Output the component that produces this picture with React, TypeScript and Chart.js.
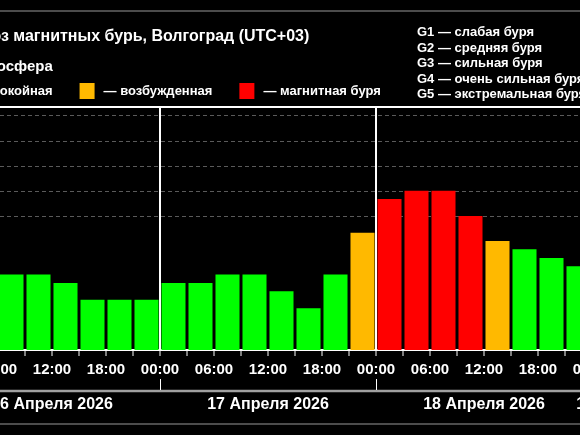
import React, { useEffect, useRef } from 'react';
import { Chart, registerables } from 'chart.js';

Chart.register(...registerables);

// ---- data ----
const chartTitle = 'Прогноз магнитных бурь, Волгоград (UTC+03)';
const legendTitle = 'Магнитосфера';
const stateLabels = ['— спокойная', '— возбужденная', '— магнитная буря'];
const stormLabels = [
  'G1 — слабая буря',
  'G2 — средняя буря',
  'G3 — сильная буря',
  'G4 — очень сильная буря',
  'G5 — экстремальная буря',
];
const stormLevels = [5, 6, 7, 8, 9];
const dayLabels = ['16 Апреля 2026', '17 Апреля 2026', '18 Апреля 2026', '19 Апреля 2026'];
// Kp index, 3-hour intervals starting at 00:00 of each day
const kpApr16 = [2.33, 2.67, 2.67, 2.67, 2.33, 1.67, 1.67, 1.67];
const kpApr17 = [2.33, 2.33, 2.67, 2.67, 2.0, 1.33, 2.67, 4.33];
const kpApr18 = [5.67, 6.0, 6.0, 5.0, 4.0, 3.67, 3.33, 3.0];
const kpApr19 = [2.67, 2.33, 2.33];
const stepHours = 3;
const axisMaxHour = 82;

// ---- style ----
const GREEN = '#00ff00';
const ORANGE = '#ffb900';
const RED = '#ff0000';
const stateColors = [GREEN, ORANGE, RED];
const FONT = '"Liberation Sans", Arial, Helvetica, sans-serif';
const CANVAS_W = 738;
const CANVAS_H = 435;
const CANVAS_LEFT = -56;
const Y_MIN = -1 / 3;
const Y_MAX = 28 / 3;

const colorFor = (v: number) => (v >= 5 ? RED : v >= 4 ? ORANGE : GREEN);

export default function App() {
  const ref = useRef<HTMLCanvasElement | null>(null);

  useEffect(() => {
    if (!ref.current) return;
    const allKp = [...kpApr16, ...kpApr17, ...kpApr18, ...kpApr19];
    const points = allKp.map((v, i) => ({ x: i * stepHours + stepHours / 2, y: v }));
    const tickHours: number[] = [];
    for (let h = 0; h <= axisMaxHour; h += stepHours) tickHours.push(h);

    const decor = {
      id: 'decor',
      beforeDraw(chart: any) {
        const c = chart.ctx;
        c.save();
        c.fillStyle = '#000';
        c.fillRect(0, 0, chart.width, chart.height);
        c.restore();
      },
      beforeDatasetsDraw(chart: any) {
        const c = chart.ctx;
        const { left, right } = chart.chartArea;
        const y = chart.scales.y;
        c.save();
        c.strokeStyle = '#5a5a5a';
        c.lineWidth = 1;
        c.setLineDash([4, 3]);
        stormLevels.forEach((lv) => {
          const py = Math.round(y.getPixelForValue(lv)) + 0.5;
          c.beginPath();
          c.moveTo(left, py);
          c.lineTo(right, py);
          c.stroke();
        });
        c.restore();
      },
      afterDraw(chart: any) {
        const c = chart.ctx;
        const { left, top } = chart.chartArea;
        const xs = chart.scales.x;
        c.save();
        // frame lines
        c.strokeStyle = '#fff';
        c.lineWidth = 2;
        c.beginPath();
        c.moveTo(0, top);
        c.lineTo(chart.width, top);
        c.stroke();
        c.strokeStyle = '#666';
        c.lineWidth = 1.5;
        c.beginPath();
        c.moveTo(0, 11);
        c.lineTo(chart.width, 11);
        c.stroke();
        c.strokeStyle = '#a0a0a0';
        c.lineWidth = 2.5;
        c.beginPath();
        c.moveTo(0, 391);
        c.lineTo(chart.width, 391);
        c.stroke();
        c.strokeStyle = '#666';
        c.lineWidth = 1.5;
        c.beginPath();
        c.moveTo(0, 424);
        c.lineTo(chart.width, 424);
        c.stroke();
        // day separator marks in the date row
        c.strokeStyle = '#fff';
        c.lineWidth = 1;
        for (let d = 1; d < dayLabels.length; d++) {
          const px = Math.round(xs.getPixelForValue(d * 24)) + 0.5;
          c.beginPath();
          c.moveTo(px, 379);
          c.lineTo(px, 390);
          c.stroke();
        }
        // date labels
        c.fillStyle = '#fff';
        c.font = `bold 16px ${FONT}`;
        c.textAlign = 'center';
        c.textBaseline = 'alphabetic';
        dayLabels.forEach((lab, d) => {
          const s = xs.getPixelForValue(d * 24);
          const e = xs.getPixelForValue(Math.min((d + 1) * 24, axisMaxHour));
          c.fillText(lab, (s + e) / 2, 409);
        });
        // title
        c.textAlign = 'left';
        c.font = `bold 16px ${FONT}`;
        c.fillText(chartTitle, left, 41);
        c.font = `bold 15px ${FONT}`;
        c.fillText(legendTitle, left, 71);
        // state legend
        c.font = `bold 13px ${FONT}`;
        let x = left;
        stateLabels.forEach((lab, i) => {
          c.fillStyle = stateColors[i];
          c.fillRect(x, 83, 15, 16);
          c.fillStyle = '#fff';
          c.fillText(lab, x + 24, 95);
          x += 24 + c.measureText(lab).width + 27;
        });
        // storm legend
        c.font = `bold 13px ${FONT}`;
        stormLabels.forEach((lab, i) => {
          c.fillText(lab, 473, 36 + i * 15.5);
        });
        c.restore();
      },
    };

    const chart = new Chart(ref.current, {
      type: 'bar',
      data: {
        datasets: [
          {
            data: points as any,
            backgroundColor: allKp.map(colorFor),
            borderWidth: 0,
            barPercentage: 0.89,
            categoryPercentage: 1,
            base: Y_MIN,
          },
        ],
      },
      options: {
        animation: false,
        responsive: false,
        maintainAspectRatio: false,
        layout: { padding: { top: 107, left: 0, right: 0, bottom: 0 } },
        plugins: {
          legend: { display: false },
          title: { display: false },
          tooltip: { enabled: false },
        },
        scales: {
          x: {
            type: 'linear',
            min: 0,
            max: axisMaxHour,
            offset: false,
            afterBuildTicks: (s: any) => {
              s.ticks = tickHours.map((v) => ({ value: v }));
            },
            afterFit: (s: any) => {
              s.paddingLeft = 0;
              s.paddingRight = 0;
              s.height = 85;
            },
            ticks: {
              autoSkip: false,
              maxRotation: 0,
              minRotation: 0,
              color: '#fff',
              padding: 5,
              font: { size: 15, weight: 'bold', family: FONT },
              callback: (v: any) => {
                const h = Number(v) % 24;
                if (h % 6 !== 0) return '';
                return (h < 10 ? '0' : '') + h + ':00';
              },
            },
            grid: {
              offset: false,
              color: (ctx: any) =>
                ctx.tick && ctx.tick.value % 24 === 0 ? '#ffffff' : 'rgba(0,0,0,0)',
              lineWidth: 2,
              tickColor: '#ffffff',
              tickWidth: 1,
              tickLength: 6,
              drawOnChartArea: true,
              drawTicks: true,
            },
            border: { color: '#ffffff', width: 2 },
          },
          y: {
            display: false,
            min: Y_MIN,
            max: Y_MAX,
          },
        },
      } as any,
      plugins: [decor],
    });
    return () => chart.destroy();
  }, []);

  return (
    <div
      style={{
        position: 'fixed',
        left: 0,
        top: 0,
        width: 580,
        height: 435,
        overflow: 'hidden',
        background: '#000',
      }}
    >
      <canvas
        ref={ref}
        width={CANVAS_W}
        height={CANVAS_H}
        style={{ position: 'absolute', left: CANVAS_LEFT, top: 0, width: CANVAS_W, height: CANVAS_H }}
      />
    </div>
  );
}
